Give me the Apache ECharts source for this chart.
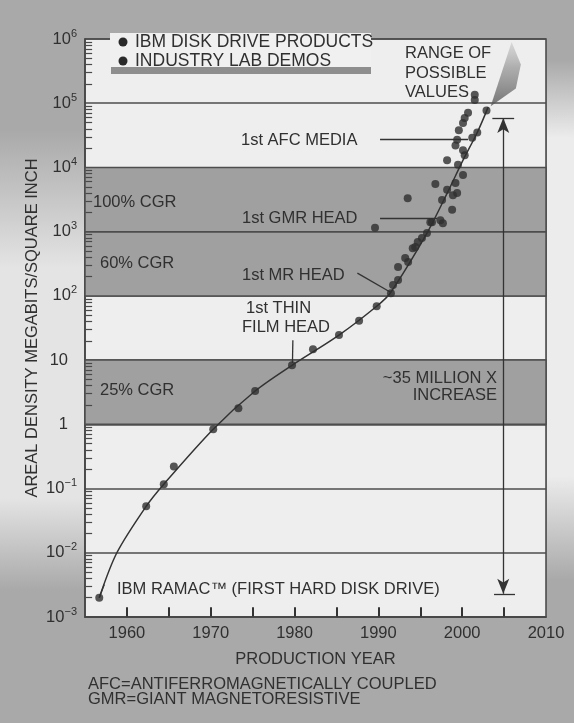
<!DOCTYPE html>
<html>
<head>
<meta charset="utf-8">
<title>Areal density</title>
<script src="https://cdn.jsdelivr.net/npm/echarts@6/dist/echarts.min.js"></script>
<style>
  html, body { margin: 0; padding: 0; background: #aaaaaa; }
  #chart { width: 574px; height: 723px; }
</style>
</head>
<body>
<div id="chart"></div>
<script>
// trend curve through the products
const trendYears = [1956.7, 1958.8, 1962.3, 1964.4, 1970.3, 1975.3, 1979.7, 1985.3, 1989.8, 1991.4, 1995.8, 1998.3, 2000.1, 2001.8, 2003.1]
const trendValues = [0.002, 0.01, 0.053, 0.117, 0.84, 3.3, 8.3, 24.5, 69, 110, 950, 4200, 13000, 35000, 87000]

// IBM disk drive products
const ibmYears = [1956.7, 1962.3, 1964.4, 1965.6, 1970.3, 1973.3, 1975.3, 1979.7, 1982.2, 1985.3, 1987.7, 1989.8,
  1991.5, 1991.75, 1992.35, 1992.35, 1993.2, 1993.55, 1994.1, 1994.4, 1994.7, 1995.2, 1995.8, 1996.2, 1996.4,
  1997.4, 1997.7, 1997.6, 1998.8, 1998.9, 1999.2, 1999.4, 1999.5, 2000.1, 2000.1, 2000.3, 2001.2, 2001.8, 2002.9]
const ibmValues = [0.002, 0.053, 0.117, 0.22, 0.84, 1.78, 3.3, 8.3, 14.8, 24.5, 41, 69,
  110, 148, 177, 282, 390, 337, 550, 575, 690, 800, 950, 1400, 1400,
  1500, 1350, 3100, 2200, 3700, 5700, 4000, 11000, 7600, 18600, 15500, 29000, 35000, 77000]

// industry lab demos
const demoYears = [1989.6, 1993.5, 1996.8, 1998.2, 1998.2, 1999.2, 1999.4, 1999.6, 2000.1, 2000.3, 2000.7, 2001.5, 2001.5]
const demoValues = [1150, 3300, 5500, 4500, 13000, 22000, 27000, 38000, 49000, 59000, 71000, 112000, 135000]

// range of possible values (fan)
const fanYears = [2003.4, 2005.9, 2007.0, 2006.4]
const fanValues = [90000, 900000, 400000, 170000]

// shaded growth-rate bands
const bandRanges = [[1, 10], [100, 1000], [1000, 10000]]

// x tick labels and tick marks
const yearLabels = [1960, 1970, 1980, 1990, 2000, 2010]
const yearTicks = [1960, 1965, 1970, 1975, 1980, 1985, 1990, 1995, 2000, 2005]

const FONT = '"Liberation Sans", Arial, sans-serif'
const INK = '#303030'
const LINE = '#444444'

// log minor ticks 2..9 in each decade
const minorTicks = []
for (let e = -3; e < 6; e++) {
  for (let k = 2; k <= 9; k++) minorTicks.push(k * Math.pow(10, e))
}

function toPairs(xs, ys) {
  return xs.map((x, i) => [x, ys[i]])
}

function txt(text, x, y, align) {
  return {
    type: 'text', x: x, y: y, z: 50, silent: true,
    style: { text: text, fill: INK, font: '16.5px ' + FONT, align: align || 'left', verticalAlign: 'middle' }
  }
}

// tick segments, kept just inside the axis extent
const tickLines = minorTicks.map(v => [{ coord: [1955.05, v], lineStyle: { width: 1.2, color: '#4a4a4a' } }, { coord: [1955.85, v] }])
  .concat(yearTicks.map(y => [
    { coord: [y, 0.00102], lineStyle: { width: 2, color: '#333' } },
    { coord: [y, 0.00142] }
  ]))

const chart = echarts.init(document.getElementById('chart'))

const option = {
  backgroundColor: '#a9a9a9',
  animation: false,
  grid: {
    left: 85, right: 28, top: 39, bottom: 106,
    show: true, backgroundColor: '#eeeeee', borderColor: LINE, borderWidth: 1.5
  },
  xAxis: {
    type: 'value', min: 1955, max: 2010, interval: 5,
    name: 'PRODUCTION YEAR', nameLocation: 'middle', nameGap: 34,
    nameTextStyle: { color: INK, fontFamily: FONT, fontSize: 16.5 },
    axisLine: { show: true, lineStyle: { color: LINE, width: 1.5 } },
    axisTick: { show: false },
    axisLabel: {
      color: INK, fontFamily: FONT, fontSize: 16.5, margin: 8,
      formatter: v => (yearLabels.indexOf(v) >= 0 ? String(v) : '')
    },
    splitLine: { show: false }
  },
  yAxis: {
    type: 'log', logBase: 10, min: 0.001, max: 1000000,
    name: 'AREAL DENSITY MEGABITS/SQUARE INCH', nameLocation: 'middle', nameGap: 44, nameRotate: 90,
    nameMoveOverlap: false,
    nameTextStyle: { color: INK, fontFamily: FONT, fontSize: 16.5 },
    axisLine: { show: true, lineStyle: { color: LINE, width: 1.5 } },
    axisTick: { show: false },
    splitLine: { show: true, lineStyle: { color: '#4d4d4d', width: 1.5 } },
    axisLabel: {
      color: INK, fontFamily: FONT, margin: 8,
      formatter: v => {
        const e = Math.round(Math.log10(v))
        if (e === 0) return '{n|1}'
        if (e === 1) return '{n|10}'
        return '{b|10}{s|' + (e < 0 ? '\u2212' + (-e) : e) + '}'
      },
      rich: {
        n: { fontSize: 16.5, fontFamily: FONT, color: INK, padding: [0, 9, 0, 0] },
        b: { fontSize: 16.5, fontFamily: FONT, color: INK, lineHeight: 22 },
        s: { fontSize: 11, fontFamily: FONT, color: INK, verticalAlign: 'top', lineHeight: 22 }
      }
    }
  },
  graphic: [
    // lighter scan patches outside the plot
    {
      type: 'rect', z: -10, silent: true, shape: { x: 0, y: 130, width: 84, height: 460 },
      style: { fill: new echarts.graphic.LinearGradient(0, 0, 0, 1, [
        { offset: 0, color: '#a9a9a9' }, { offset: 0.3, color: '#e4e4e4' },
        { offset: 0.8, color: '#e4e4e4' }, { offset: 1, color: '#a9a9a9' }]) }
    },
    {
      type: 'rect', z: -10, silent: true, shape: { x: 547, y: 60, width: 27, height: 520 },
      style: { fill: new echarts.graphic.LinearGradient(0, 0, 0, 1, [
        { offset: 0, color: '#a9a9a9' }, { offset: 0.15, color: '#ececec' },
        { offset: 0.8, color: '#ececec' }, { offset: 1, color: '#a9a9a9' }]) }
    },
    // legend box
    { type: 'rect', z: 40, silent: true, shape: { x: 110, y: 33, width: 261, height: 35 }, style: { fill: '#f0f0f0' } },
    { type: 'rect', z: 40, silent: true, shape: { x: 111, y: 67, width: 260, height: 7 }, style: { fill: '#8e8e8e' } },
    { type: 'circle', z: 45, silent: true, shape: { cx: 123, cy: 42, r: 4.5 }, style: { fill: '#2a2a2a' } },
    { type: 'circle', z: 45, silent: true, shape: { cx: 123, cy: 61, r: 4.5 }, style: { fill: '#2a2a2a' } },
    {
      type: 'text', x: 135, y: 42, z: 50, silent: true,
      style: { text: 'IBM DISK DRIVE PRODUCTS', fill: INK, font: '17.5px ' + FONT, verticalAlign: 'middle' }
    },
    {
      type: 'text', x: 135, y: 61, z: 50, silent: true,
      style: { text: 'INDUSTRY LAB DEMOS', fill: INK, font: '17.5px ' + FONT, verticalAlign: 'middle' }
    },
    // annotations
    txt('RANGE OF', 405, 53), txt('POSSIBLE', 405, 73), txt('VALUES', 405, 92),
    txt('1st AFC MEDIA', 241, 140),
    txt('100% CGR', 93, 202),
    txt('1st GMR HEAD', 242, 218),
    txt('60% CGR', 100, 263),
    txt('1st MR HEAD', 242, 275),
    txt('1st THIN', 246, 308), txt('FILM HEAD', 242, 327),
    txt('25% CGR', 100, 390),
    txt('~35 MILLION X', 497, 378, 'right'), txt('INCREASE', 497, 395, 'right'),
    txt('IBM RAMAC\u2122 (FIRST HARD DISK DRIVE)', 117, 589),
    txt('AFC=ANTIFERROMAGNETICALLY COUPLED', 88, 684),
    txt('GMR=GIANT MAGNETORESISTIVE', 88, 699)
  ],
  series: [
    {
      // CGR bands
      name: 'bands', type: 'line', data: [], z: 1, silent: true,
      markArea: {
        silent: true,
        itemStyle: { color: '#a0a0a0', borderColor: '#4d4d4d', borderWidth: 1.5 },
        data: bandRanges.map(r => [{ yAxis: r[0] }, { yAxis: r[1] }])
      }
    },
    {
      name: 'range', type: 'custom', z: 4, silent: true,
      data: [[fanYears[0], fanValues[0]]],
      renderItem: (params, api) => {
        const pts = fanYears.map((y, i) => api.coord([y, fanValues[i]]))
        return {
          type: 'polygon', shape: { points: pts },
          style: {
            fill: new echarts.graphic.LinearGradient(0, 1, 0, 0, [
              { offset: 0, color: 'rgba(85,85,85,0.8)' },
              { offset: 0.6, color: 'rgba(120,120,120,0.55)' },
              { offset: 1, color: 'rgba(150,150,150,0.25)' }])
          }
        }
      }
    },
    {
      name: 'trend', type: 'line', z: 5, smooth: 0.3, showSymbol: false, silent: true,
      lineStyle: { color: '#333', width: 1.5 },
      data: toPairs(trendYears, trendValues),
      markLine: {
        silent: true, symbol: 'none', animation: false,
        label: { show: false },
        lineStyle: { color: '#333', width: 1.3, type: 'solid' },
        data: [
          [{ coord: [1990.2, 27000] }, { coord: [2000.7, 27000] }],
          [{ coord: [1990.2, 1620] }, { coord: [1997.0, 1620] }],
          [{ coord: [1987.5, 226] }, { coord: [1991.4, 115] }],
          [{ coord: [1979.8, 20.4] }, { coord: [1979.75, 9] }],
          [{ coord: [1956.7, 0.002] }, { coord: [1957.3, 0.0032] }],
          // 35 million x arrow and its caps
          [{ coord: [2004.9, 59000], symbol: 'arrow', symbolSize: [9, 15] },
            { coord: [2004.9, 0.0023], symbol: 'arrow', symbolSize: [9, 15] }],
          [{ coord: [2003.6, 59000] }, { coord: [2006.2, 59000] }],
          [{ coord: [2003.8, 0.0023] }, { coord: [2006.3, 0.0023] }]
        ].concat(tickLines)
      }
    },
    {
      name: 'IBM DISK DRIVE PRODUCTS', type: 'scatter', z: 6, symbolSize: 8,
      itemStyle: { color: '#2e2e2e' },
      data: toPairs(ibmYears, ibmValues)
    },
    {
      name: 'INDUSTRY LAB DEMOS', type: 'scatter', z: 6, symbolSize: 8,
      itemStyle: { color: '#2e2e2e' },
      data: toPairs(demoYears, demoValues)
    }
  ]
}

chart.setOption(option)
window.addEventListener('resize', () => {
  chart.resize()
})
</script>
</body>
</html>
